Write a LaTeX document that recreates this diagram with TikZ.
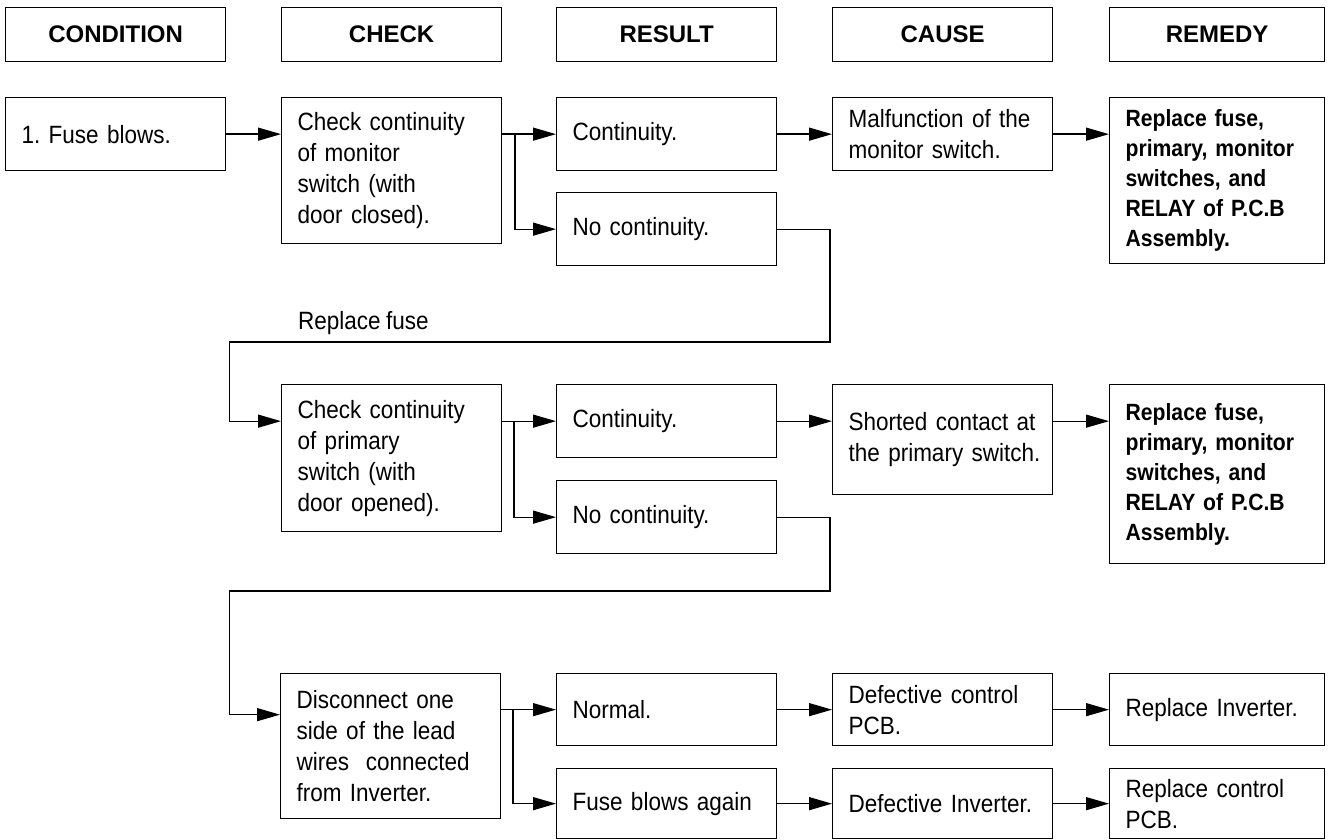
\documentclass[tikz,border=0pt]{standalone}
\usepackage{fontspec}
\setmainfont{Liberation Sans}
\newfontfamily\regf{Liberation Sans}[FakeStretch=0.9, WordSpace=0.85]
\newfontfamily\remf{Liberation Sans}[FakeStretch=0.9, WordSpace=0.85]
\usetikzlibrary{arrows.meta}
\frenchspacing
\begin{document}
\begin{tikzpicture}[x=1pt,y=-1pt,
  box/.style={draw, line width=1.3pt, inner xsep=10pt, inner ysep=0pt, anchor=north west, align=left,
    font=\regf\fontsize{25}{31}\selectfont\frenchspacing,
    execute at begin node={\leftskip=6pt\relax}},
  w220/.style={text width=200pt},
  w215/.style={text width=195pt},
  hdr/.style={draw, line width=1.3pt, inner xsep=10pt, inner ysep=0pt, anchor=north west, align=center,
    minimum height=54pt, font=\fontsize{24}{29}\selectfont\bfseries},
  rem/.style={font=\remf\bfseries\fontsize{23.5}{30}\selectfont\frenchspacing},
  arr/.style={line width=1.3pt, -{Triangle[length=23pt,width=13pt]}},
  ln/.style={line width=1.3pt}]
\useasboundingbox (0,0) rectangle (1328,840);
% headers
\node[hdr,w220] (hcond) at (5,7) {CONDITION};
\node[hdr,w220] (hcheck) at (281,7) {CHECK};
\node[hdr,w220] (hres) at (556,7) {RESULT};
\node[hdr,w220] (hcause) at (832,7) {CAUSE};
\node[hdr,w215] (hrem) at (1109,7) {REMEDY};
% row 1
\node[box,w220,minimum height=73pt] (fuse) at (5,97) {1. Fuse blows.};
\node[box,w220,minimum height=146pt] (check1) at (281,97) {Check continuity\\of monitor\\switch (with\\door closed).};
\node[box,w220,minimum height=73pt] (cont1) at (556,97) {Continuity.};
\node[box,w220,minimum height=73pt] (nocont1) at (556,192) {No continuity.};
\node[box,w220,minimum height=73pt] (mal1) at (832,97) {Malfunction of the\\monitor switch.};
\node[box,w215,rem,minimum height=166pt] (rem1) at (1109,97) {Replace fuse,\\primary, monitor\\switches, and\\RELAY of P.C.B\\Assembly.};
% row 2
\node[box,w220,minimum height=147pt] (check2) at (281,384) {Check continuity\\of primary\\switch (with\\door opened).};
\node[box,w220,minimum height=73pt] (cont2) at (556,384) {Continuity.};
\node[box,w220,minimum height=73pt] (nocont2) at (556,480) {No continuity.};
\node[box,w220,minimum height=110pt] (short2) at (832,384) {Shorted contact at\\the primary switch.};
\node[box,w215,rem,minimum height=179pt] (rem2) at (1109,384) {Replace fuse,\\primary, monitor\\switches, and\\RELAY of P.C.B\\Assembly.};
% row 3
\node[box,w220,minimum height=145pt] (check3) at (280,673) {Disconnect one\\side of the lead\\wires \ connected\\from Inverter.};
\node[box,w220,minimum height=72pt] (normal3) at (556,673) {Normal.};
\node[box,w220,minimum height=70pt] (again3) at (556,768) {Fuse blows again};
\node[box,w220,minimum height=72pt] (defpcb) at (832,673) {Defective control\\PCB.};
\node[box,w220,minimum height=70pt] (definv) at (832,768) {Defective Inverter.};
\node[box,w215,minimum height=72pt] (repinv) at (1109,673) {Replace Inverter.};
\node[box,w215,minimum height=70pt] (reppcb) at (1109,768) {Replace control\\PCB.};
% label
\node[anchor=west, inner sep=0pt, font=\regf\fontsize{25}{31}\selectfont] (rfuse) at (298,323) {Replace fuse};
% coordinates
\coordinate (b1) at (515,0);
\coordinate (b2) at (514,0);
\coordinate (b3) at (513,0);
\coordinate (r1) at (830,342);
\coordinate (l1) at (229.5,342);
\coordinate (r2) at (830,591);
\coordinate (l2) at (229.5,591);
% row 1 connectors
\draw[arr] (fuse.east) -- (check1.west |- fuse.east);
\draw[arr] (check1.east |- cont1.west) -- (cont1.west);
\draw[arr] (b1 |- cont1.west) |- (nocont1.west);
\draw[arr] (cont1.east) -- (mal1.west);
\draw[arr] (mal1.east) -- (rem1.west |- mal1.east);
\draw[arr] (nocont1.east) -| (r1) -- (l1) |- (check2.west |- cont2.west);
% row 2 connectors
\draw[arr] (check2.east |- cont2.west) -- (cont2.west);
\draw[arr] (b2 |- cont2.west) |- (nocont2.west);
\draw[arr] (cont2.east) -- (short2.west |- cont2.east);
\draw[arr] (short2.east |- cont2.east) -- (rem2.west |- cont2.east);
\draw[arr] (nocont2.east) -| (r2) -- (l2) |- ([yshift=-5pt]check3.west |- normal3.west);
% row 3 connectors
\draw[arr] (check3.east |- normal3.west) -- (normal3.west);
\draw[arr] (b3 |- normal3.west) |- (again3.west);
\draw[arr] (normal3.east) -- (defpcb.west);
\draw[arr] (defpcb.east) -- (repinv.west);
\draw[arr] (again3.east) -- (definv.west);
\draw[arr] (definv.east) -- (reppcb.west);
\end{tikzpicture}
\end{document}
